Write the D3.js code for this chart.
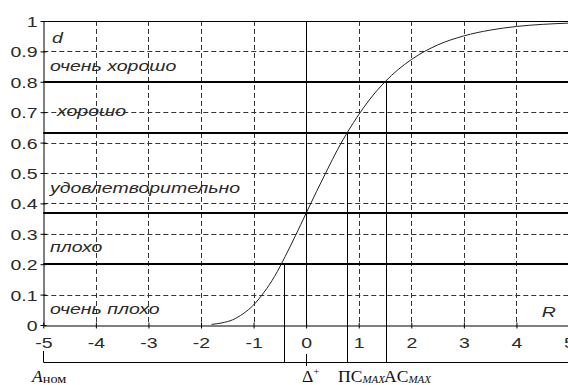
<!DOCTYPE html>
<html>
<head>
<meta charset="utf-8">
<script src="https://cdn.jsdelivr.net/npm/d3@7"></script>
<style>
  html, body { margin: 0; padding: 0; background: #fff; }
  svg { display: block; }
</style>
</head>
<body>
<svg id="chart" width="568" height="385"></svg>
<script>
// ---- data ----
const xTicks = [-5, -4, -3, -2, -1, 0, 1, 2, 3, 4, 5];
const xTickLabels = ["-5", "-4", "-3", "-2", "-1", "0", "1", "2", "3", "4", "5"];
const yTicks = [0, 0.1, 0.2, 0.3, 0.4, 0.5, 0.6, 0.7, 0.8, 0.9, 1];
const yTickLabels = ["0", "0.1", "0.2", "0.3", "0.4", "0.5", "0.6", "0.7", "0.8", "0.9", "1"];
const curveR = [-1.8, -1.6, -1.4, -1.2, -1.0, -0.8, -0.6, -0.4, -0.2, 0, 0.2, 0.4, 0.6, 0.8, 1.0, 1.2, 1.5, 2.0, 2.5, 3.0, 3.5, 4.0, 4.5, 5.0];
const curveD = [0.002, 0.007, 0.017, 0.037, 0.066, 0.108, 0.16, 0.225, 0.295, 0.368, 0.44, 0.51, 0.578, 0.638, 0.692, 0.74, 0.80, 0.873, 0.921, 0.951, 0.970, 0.982, 0.989, 0.993];
const levels = [0.2, 0.37, 0.63, 0.8];
const zoneNames = ["очень плохо", "плохо", "удовлетворительно", "хорошо", "очень хорошо"];
const zoneBaseD = [0.036, 0.239, 0.434, 0.688, 0.837];
const markerR = [-0.43, 0, 0.785, 1.515];
const markerD = [0.2, 1, 0.63, 0.8];

// ---- layout ----
const svg = d3.select("#chart");
const x = d3.scaleLinear().domain([-5, 5]).range([43.3, 569]);
const y = d3.scaleLinear().domain([0, 1]).range([325, 21]);
const lowerAxisY = 362;
const SX = 1.3; // horizontal stretch of glyphs
const sans = "'Liberation Sans', Arial, sans-serif";
const serif = "'Liberation Serif', 'Times New Roman', serif";

function stretchedText(g, px, py, str, anchor, opts = {}) {
  const t = g.append("text")
    .attr("transform", `translate(${px},${py}) scale(${opts.sx || SX},1)`)
    .attr("text-anchor", anchor)
    .style("font-family", sans)
    .attr("font-size", opts.size || 15)
    .attr("fill", opts.fill || "#2a2a2a")
    .text(str);
  if (opts.italic) t.attr("font-style", "italic");
  return t;
}

// grid (dashed)
const grid = svg.append("g").attr("stroke", "#333").attr("stroke-width", 1).attr("stroke-dasharray", "5,3");
grid.selectAll("line.h").data(yTicks.filter(v => v > 0 && v < 1)).join("line")
  .attr("x1", x(-5)).attr("x2", x(5))
  .attr("y1", d => Math.round(y(d)) + 0.5).attr("y2", d => Math.round(y(d)) + 0.5);
grid.selectAll("line.v").data(xTicks.filter(v => v > -5 && v !== 0)).join("line")
  .attr("x1", d => Math.round(x(d)) + 0.5).attr("x2", d => Math.round(x(d)) + 0.5)
  .attr("y1", y(1)).attr("y2", y(0));

// thick level lines
svg.append("g").selectAll("line").data(levels).join("line")
  .attr("x1", x(-5)).attr("x2", x(5))
  .attr("y1", d => Math.round(y(d))).attr("y2", d => Math.round(y(d)))
  .attr("stroke", "#000").attr("stroke-width", 2);

// frame: top line
svg.append("line").attr("x1", x(-5)).attr("x2", x(5))
  .attr("y1", Math.round(y(1)) + 0.5).attr("y2", Math.round(y(1)) + 0.5)
  .attr("stroke", "#000").attr("stroke-width", 1);

// axes
const yAxis = d3.axisLeft(y).tickValues(yTicks).tickFormat(() => "").tickSizeInner(-3).tickSizeOuter(0);
const xAxis = d3.axisBottom(x).tickValues(xTicks).tickFormat(() => "").tickSizeInner(-3).tickSizeOuter(0);
const gy = svg.append("g").attr("transform", `translate(${Math.round(x(-5)) + 0.5},0)`).call(yAxis);
const gx = svg.append("g").attr("transform", `translate(0,${Math.round(y(0)) + 0.5})`).call(xAxis);
gy.selectAll(".tick line").attr("x1", -3).attr("x2", 3).attr("stroke", "#000");
gx.selectAll(".tick line").attr("y1", -3).attr("y2", 3).attr("stroke", "#000");
gy.select(".domain").attr("stroke", "#000");
gx.select(".domain").attr("stroke", "#000");
gy.selectAll(".tick").each(function (d, i) {
  stretchedText(d3.select(this), -6, 5.5, yTickLabels[i], "end", { size: 15 });
});
gx.selectAll(".tick").each(function (d, i) {
  stretchedText(d3.select(this), 0, 22.5, xTickLabels[i], "middle", { size: 15 });
});

// curve
const pts = curveR.map((r, i) => [r, curveD[i]]);
svg.append("path").datum(pts)
  .attr("fill", "none").attr("stroke", "#222").attr("stroke-width", 1)
  .attr("d", d3.line().x(d => x(d[0])).y(d => y(d[1])).curve(d3.curveMonotoneX));

// marker vertical lines
svg.append("g").selectAll("line").data(markerR).join("line")
  .attr("x1", d => Math.round(x(d)) + 0.5).attr("x2", d => Math.round(x(d)) + 0.5)
  .attr("y1", (d, i) => y(markerD[i]))
  .attr("y2", (d, i) => markerR[i] === 0 ? y(0) : lowerAxisY + 1)
  .attr("stroke", "#000").attr("stroke-width", 1);
// small tick under delta
svg.append("line").attr("x1", Math.round(x(0)) + 0.5).attr("x2", Math.round(x(0)) + 0.5)
  .attr("y1", lowerAxisY - 8).attr("y2", lowerAxisY + 4).attr("stroke", "#000");

// lower axis
svg.append("line").attr("x1", x(-5)).attr("x2", 568)
  .attr("y1", lowerAxisY + 0.5).attr("y2", lowerAxisY + 0.5).attr("stroke", "#000");
svg.append("line").attr("x1", Math.round(x(-5)) + 0.5).attr("x2", Math.round(x(-5)) + 0.5)
  .attr("y1", lowerAxisY - 11).attr("y2", lowerAxisY).attr("stroke", "#000");

// zone labels
const lab = svg.append("g");
zoneNames.forEach((n, i) => {
  const px = n === "хорошо" ? 57 : 50;
  stretchedText(lab, px, y(zoneBaseD[i]), n, "start", { italic: true, size: 15 });
});
stretchedText(lab, 52, y(0.928), "d", "start", { italic: true, size: 15 });
stretchedText(lab, x(4.48), y(0.025), "R", "start", { italic: true, size: 15 });

// lower labels (serif)
const bl = 382;
const low = svg.append("g");
function serifLabel(px, main, sub, subItalic, mainItalic, sup, subSize) {
  const t = low.append("text").attr("transform", `translate(${px},${bl}) scale(1.1,1)`)
    .style("font-family", serif).attr("font-size", 16).attr("fill", "#111");
  const m = t.append("tspan").text(main);
  if (mainItalic) m.attr("font-style", "italic");
  if (sub) {
    const s = t.append("tspan").attr("font-size", subSize || 10).attr("dy", 1).text(sub);
    if (subItalic) s.attr("font-style", "italic");
  }
  if (sup) t.append("tspan").attr("font-size", 10).attr("dy", -7).text(sup);
}
serifLabel(32, "A", "ном", false, true, null, 13);
serifLabel(302, "Δ", null, false, false, "+");
serifLabel(338, "ПC", "MAX", true, false);
serifLabel(384, "AC", "MAX", true, false);
</script>
</body>
</html>
